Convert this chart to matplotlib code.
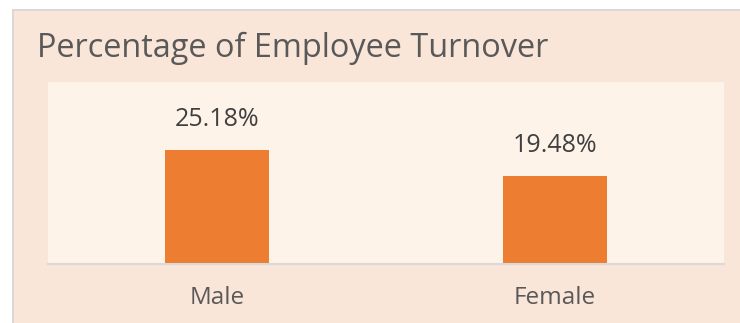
import matplotlib
matplotlib.use("Agg")
import matplotlib.pyplot as plt
from matplotlib.patches import Rectangle

# turnover share by gender, in percent
genders = ["Male", "Female"]
turnover_pct = [25.18, 19.48]

W, H = 740, 323
CARD_BG = "#FAE5D9"
PLOT_BG = "#FEF3E9"
BAR = "#ED7D31"
BORDER = "#D9D9D9"

plt.rcParams["font.family"] = ["Open Sans", "DejaVu Sans"]

fig = plt.figure(figsize=(W / 100, H / 100), dpi=100)
fig.patch.set_facecolor("white")


def px(x, y):
    # pixel coords (top-left origin) -> figure fraction
    return x / W, 1 - y / H


# card background with a thin grey edge on the left and top
fig.add_artist(Rectangle((12 / W, -0.05), (W - 12) / W, 1.05 - 9 / H,
                         transform=fig.transFigure, facecolor=BORDER,
                         edgecolor="none", zorder=0))
fig.add_artist(Rectangle((14 / W, -0.05), (W - 14) / W, 1.05 - 11 / H,
                         transform=fig.transFigure, facecolor=CARD_BG,
                         edgecolor="none", zorder=0))

fig.text(*px(37, 48), "Percentage of Employee Turnover", fontsize=23.4,
         color="#595959", ha="left", va="center")

left, top, right, bottom = 48, 82, 724, 264
ax = fig.add_axes([left / W, 1 - bottom / H, (right - left) / W, (bottom - top) / H])
ax.set_facecolor(PLOT_BG)

x = range(len(genders))
ax.bar(x, turnover_pct, width=0.31, color=BAR, zorder=2)
for i, v in zip(x, turnover_pct):
    ax.annotate(f"{v:.2f}%", (i, v), xytext=(0, 22), textcoords="offset points",
                ha="center", va="center", fontsize=18, color="#404040")

ax.set_xlim(-0.5, 1.5)
ax.set_ylim(0, 40.2)
ax.set_xticks(list(x))
ax.set_xticklabels(genders, fontsize=17.5, color="#595959")
ax.tick_params(axis="x", length=0, pad=16)
ax.set_yticks([])
for s in ["top", "right", "left"]:
    ax.spines[s].set_visible(False)
ax.spines["bottom"].set_color(BORDER)
ax.spines["bottom"].set_linewidth(1.5)

fig.savefig("out.png", dpi=100)
